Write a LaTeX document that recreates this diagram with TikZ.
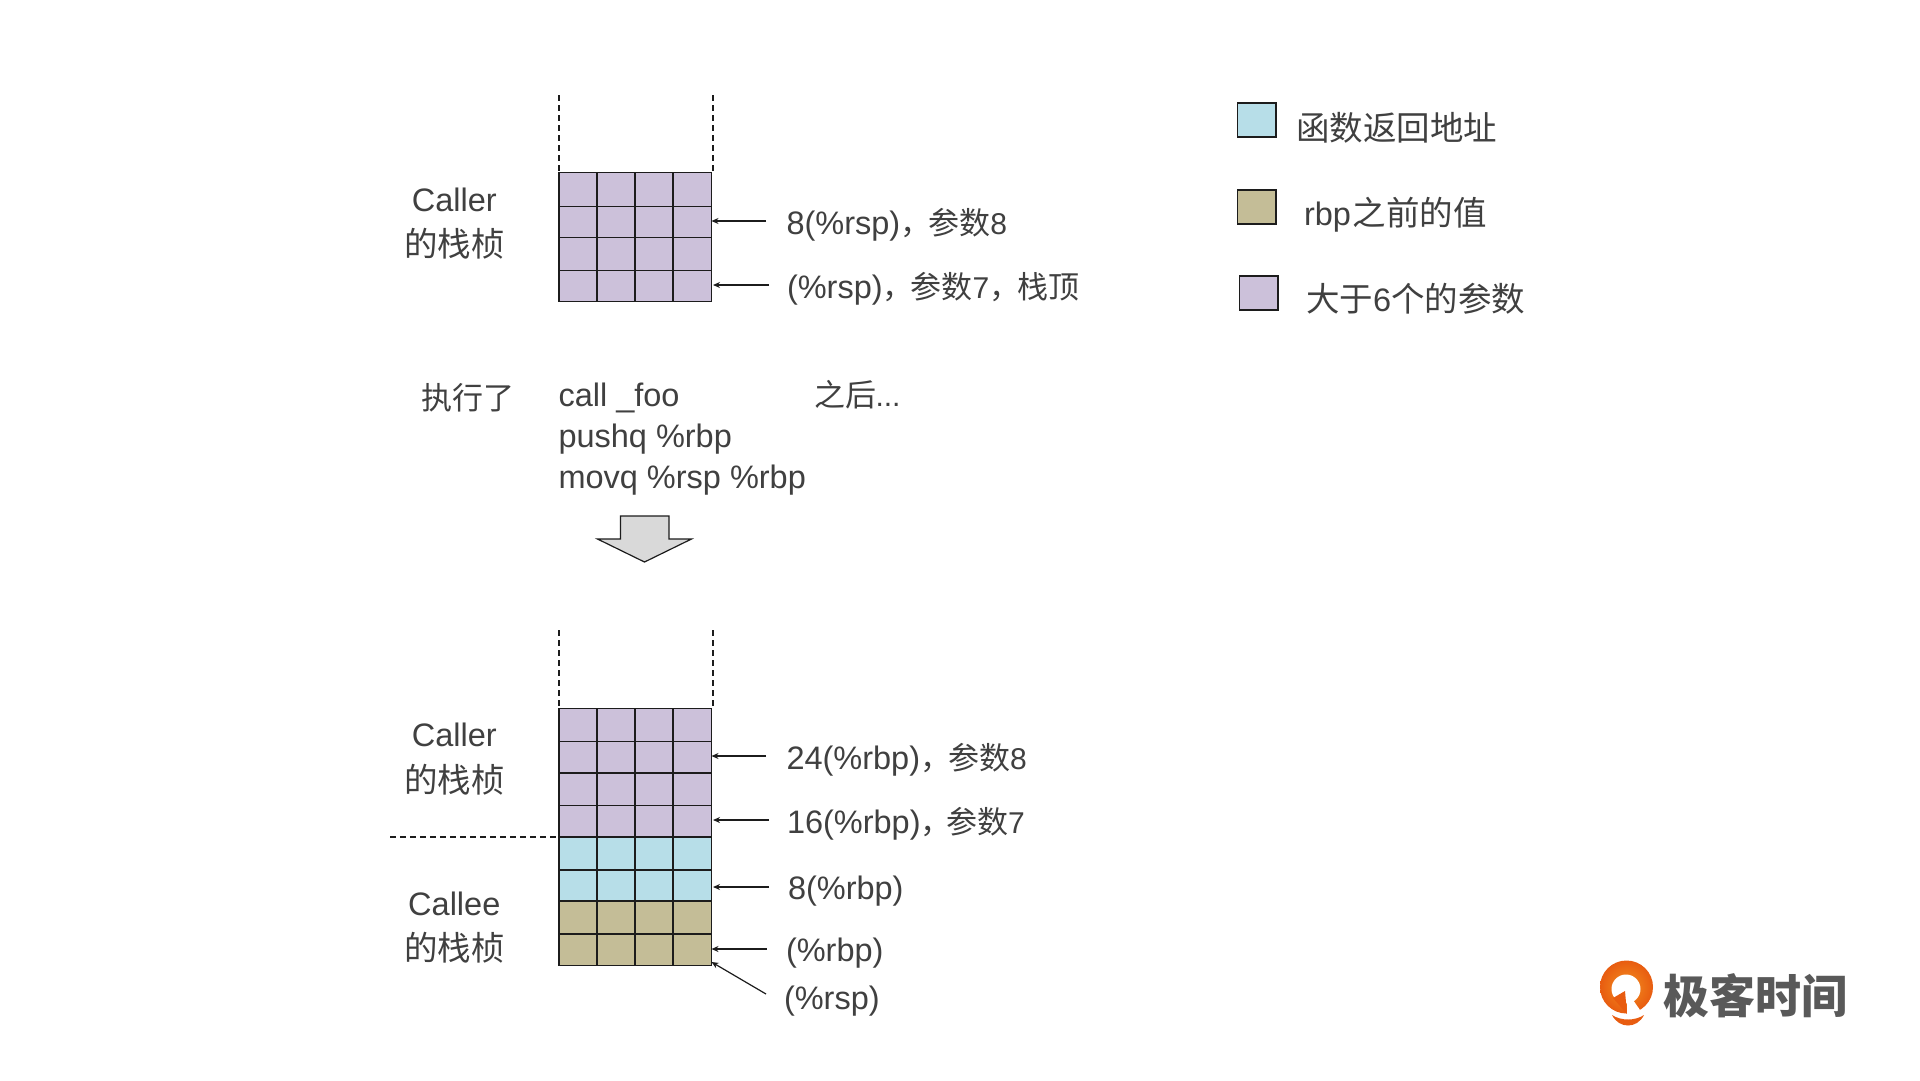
\documentclass[tikz,border=0pt]{standalone}
\usepackage{fontspec}
\setmainfont[Scale=0.97]{Liberation Sans}
\newfontfamily\cjk{Noto Sans CJK SC}
\usetikzlibrary{arrows.meta}
\definecolor{argc}{HTML}{CCC1DA}
\definecolor{retc}{HTML}{B7DEE8}
\definecolor{rbpc}{HTML}{C4BD97}
\definecolor{txt}{HTML}{404040}
\definecolor{lineC}{HTML}{1C1C1C}
\definecolor{logoA}{HTML}{F39020}
\definecolor{logoB}{HTML}{E85C10}
\tikzset{
  lab/.style={inner sep=0pt,outer sep=0pt,text=txt,font=\fontsize{33.5}{33.5}\selectfont,anchor=base west},
  labc/.style={lab,anchor=base},
  cell/.style={draw=lineC,line width=1.5pt},
  guide/.style={draw=lineC,line width=1.2pt,dash pattern=on 6pt off 4pt},
  ptr/.style={draw=lineC,line width=1.2pt,-{Stealth[length=7pt,width=6pt]}},
  key/.style={draw=lineC,line width=1.5pt,minimum width=38.5pt,minimum height=34pt,inner sep=0pt,outer sep=0pt,anchor=north west}
}
\newcommand{\cm}{{\cjk\fontsize{31}{31}\selectfont\char"FF0C\kern-3pt}}
\newcommand{\smallf}{\fontsize{31}{31}\selectfont}
\newcommand{\gridrow}[3]{% y-top, y-bottom, colour
  \fill[#3] (558.8,#1) rectangle (711.3,#2);
  \draw[cell] (558.8,#1) rectangle (596.8,#2) (596.8,#1) rectangle (634.8,#2) (634.8,#1) rectangle (673,#2) (673,#1) rectangle (711.3,#2);
}
\begin{document}
\begin{tikzpicture}[x=1pt,y=-1pt]
\useasboundingbox (0,0) rectangle (1920,1080);
\fill[white] (0,0) rectangle (1920,1080);

% top stack
\draw[guide] (559,95) -- (559,171);
\draw[guide] (713,95) -- (713,171);
\gridrow{172.7}{206.3}{argc}
\gridrow{206.3}{237.3}{argc}
\gridrow{237.3}{270.3}{argc}
\gridrow{270.3}{301.7}{argc}

\node[labc] (caller1) at (454.3,211) {Caller};
\node[labc] (frame1) at (454.3,256) {\cjk 的栈桢};

\coordinate (a1s) at (766,221); \coordinate (a1e) at (711.5,221);
\coordinate (a2s) at (769,285); \coordinate (a2e) at (713,285);
\draw[ptr] (a1s) -- (a1e);
\draw[ptr] (a2s) -- (a2e);
\node[lab] (l1) at (786.5,234) {8(\%rsp)\cm{\smallf{\cjk 参数}8}};
\node[lab] (l2) at (787,298) {(\%rsp)\cm{\smallf{\cjk 参数}7\cm{\cjk 栈顶}}};

% middle text
\node[labc,font=\smallf] (exec) at (467.5,409) {\cjk 执行了};
\node[lab] (c1) at (558.5,406) {call \_foo};
\node[lab] (c2) at (558.5,447) {pushq \%rbp};
\node[lab] (c3) at (558.5,488) {movq \%rsp \%rbp};
\node[lab,font=\smallf] (after) at (814.5,406) {{\cjk 之后}\kern-1pt...};

% block arrow
\draw[draw=lineC,line width=1.2pt,fill=black!15,line join=miter]
  (620.5,516) -- (669,516) -- (669,539) -- (691.5,539) -- (644.5,562) -- (597.5,539) -- (620.5,539) -- cycle;

% bottom stack
\draw[guide] (559,630) -- (559,707);
\draw[guide] (713,630) -- (713,707);
\gridrow{708.3}{741.7}{argc}
\gridrow{741.7}{773}{argc}
\gridrow{773}{805.7}{argc}
\gridrow{805.7}{837}{argc}
\gridrow{837}{870}{retc}
\gridrow{870}{901}{retc}
\gridrow{901}{934}{rbpc}
\gridrow{934}{965.3}{rbpc}
\draw[guide] (390,837) -- (558,837);

\node[labc] (caller2) at (454.3,746) {Caller};
\node[labc] (frame2) at (454.3,792) {\cjk 的栈桢};
\node[labc] (callee) at (454.3,915) {Callee};
\node[labc] (frame3) at (454.3,960) {\cjk 的栈桢};

\coordinate (b1s) at (766,756); \coordinate (b1e) at (711.5,756);
\coordinate (b2s) at (769,820); \coordinate (b2e) at (713,820);
\coordinate (b3s) at (769,887); \coordinate (b3e) at (713,887);
\coordinate (b4s) at (766.5,949); \coordinate (b4e) at (711.5,949);
\coordinate (b5s) at (766,994); \coordinate (b5e) at (711.5,962);
\draw[ptr] (b1s) -- (b1e);
\draw[ptr] (b2s) -- (b2e);
\draw[ptr] (b3s) -- (b3e);
\draw[ptr] (b4s) -- (b4e);
\draw[ptr] (b5s) -- (b5e);
\node[lab] (m1) at (786.5,769.5) {24(\%rbp)\cm{\smallf{\cjk 参数}8}};
\node[lab] (m2) at (787,833.5) {16(\%rbp)\cm\kern-2.5pt{\smallf{\cjk 参数}7}};
\node[lab] (m3) at (788,899) {8(\%rbp)};
\node[lab] (m4) at (786,961) {(\%rbp)};
\node[lab] (m5) at (784,1009) {(\%rsp)};

% legend
\node[key,fill=retc] (k1) at (1237.5,103) {};
\node[key,fill=rbpc] (k2) at (1237.5,190) {};
\node[key,fill=argc] (k3) at (1239.5,276) {};
\node[lab] (t1) at (1296,140) {\cjk 函数返回地址};
\node[lab] (t2) at (1304,225) {rbp\kern2pt{\cjk 之前的值}};
\node[lab] (t3) at (1306,311) {{\cjk 大于}6{\cjk 个的参数}};

% logo
\shade[inner color=logoA,outer color=logoB] (1626.5,987) circle (26.5);
\fill[white] (1626,989) circle (14.5);
\fill[logoB] (1625,991) -- (1613,998) -- (1627,1014) -- cycle;
\fill[white] (1627,993) -- (1627,1016) -- (1635,1016) -- (1640,1010) -- (1633,1000) -- cycle;
\fill[logoB] (1612,1015) .. controls (1621,1021) and (1635,1021) .. (1644,1015) .. controls (1637,1029) and (1619,1029) .. (1612,1015) -- cycle;
\node[inner sep=0pt,anchor=base west,text=black!65,font=\cjk\bfseries\fontsize{46}{46}\selectfont] (logo) at (1663,1013) {极客时间};
\end{tikzpicture}
\end{document}
